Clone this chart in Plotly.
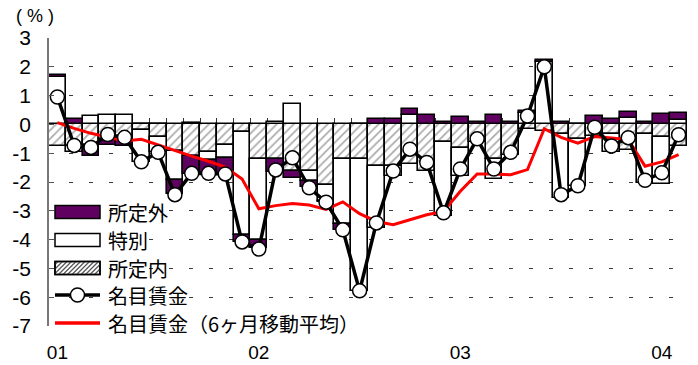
import plotly.graph_objects as go

# Monthly periods, Jan 2001 - Feb 2004
months = [f"{y}-{m:02d}" for y in (2001, 2002, 2003) for m in range(1, 13)] + ["2004-01", "2004-02"]
year_ticks = ["2001-01", "2002-01", "2003-01", "2004-01"]
year_labels = ["01", "02", "03", "04"]

# Contributions to nominal wage growth (percentage points)
scheduled = [-0.75, -0.75, -0.72, -0.5, -0.52, -0.2, -0.45, -0.93, -1.1, -0.97, -0.7, -0.28,
             -1.2, -1.2, -1.62, -1.63, -2.1, -1.2, -1.2, -1.45, -1.45, -1.37, -1.62, -0.6,
             -0.81, -0.6, -1.2, -1.05, -0.15, -0.23, -0.35, -0.5, -0.4, -0.35, -0.9, -0.35,
             -0.44, -0.75]
special = [1.63, -0.2, 0.3, 0.33, 0.32, -1.1, -0.52, -1.0, 0.05, -0.25, -0.45, -3.55,
           -2.8, 0.08, 0.72, -0.35, -0.55, -2.25, -4.6, -2.15, -0.35, 0.33, 0.0, -2.58,
           -0.99, 0.0, -0.68, 0.0, 0.4, 2.15, -2.2, -1.65, 0.0, -0.6, 0.23, -1.7,
           -1.63, 0.14]
overtime = [0.09, 0.2, -0.38, -0.2, -0.23, 0.0, 0.0, -0.5, -0.63, -0.48, -0.55, -0.25,
            -0.3, -0.45, -0.25, -0.2, -0.05, -0.2, 0.0, 0.2, 0.18, 0.2, 0.31, 0.1,
            0.25, 0.1, 0.33, 0.08, 0.05, 0.08, 0.1, 0.0, 0.28, 0.2, 0.2, 0.08,
            0.37, 0.25]
nominal = [0.95, -0.73, -0.8, -0.35, -0.45, -1.3, -0.97, -2.44, -1.7, -1.7, -1.72, -4.08,
           -4.33, -1.58, -1.16, -2.2, -2.7, -3.66, -5.78, -3.42, -1.62, -0.86, -1.32, -3.07,
           -1.55, -0.5, -1.55, -0.97, 0.29, 2.0, -2.44, -2.13, -0.1, -0.75, -0.46, -1.94,
           -1.68, -0.36]
nominal_ma6 = [0.06, -0.14, -0.31, -0.45, -0.58, -0.52, -0.72, -0.9, -1.1, -1.28, -1.48, -1.9,
               -2.93, -2.82, -2.75, -2.8, -2.95, -2.69, -3.1, -3.37, -3.48, -3.31, -3.14, -3.02,
               -2.32, -1.72, -1.72, -1.75, -1.57, -0.15, -0.45, -0.65, -0.42, -0.47, -0.53, -1.45,
               -1.3, -1.05]

legend_names = ["所定外", "特別", "所定内", "名目賃金", "名目賃金（6ヶ月移動平均）"]
y_ticks = list(range(-7, 4))

FONT = "Arial, 'Liberation Sans', 'Noto Sans CJK JP', sans-serif"
CJK = "'Noto Sans CJK JP', sans-serif"
PURPLE = "#600060"
HATCH = "#555555"

W, H = 698, 365
ML, MR, MT, MB = 49, 11, 38, 39
PW, PH = W - ML - MR, H - MT - MB


def px(x):
    """pixel column -> paper x"""
    return (x - ML) / PW


def py(y):
    """pixel row -> paper y"""
    return (H - MB - y) / PH


fig = go.Figure()

bar_line = dict(color="black", width=1.6)
fig.add_trace(go.Bar(
    x=months, y=scheduled, name=legend_names[2],
    marker=dict(color="white", line=bar_line,
                pattern=dict(shape="/", fgcolor=HATCH, bgcolor="white", size=6, solidity=0.28)),
))
fig.add_trace(go.Bar(
    x=months, y=special, name=legend_names[1],
    marker=dict(color="white", line=bar_line),
))
fig.add_trace(go.Bar(
    x=months, y=overtime, name=legend_names[0],
    marker=dict(color=PURPLE, line=bar_line),
))
fig.add_trace(go.Scatter(
    x=months, y=nominal_ma6, name=legend_names[4], mode="lines",
    line=dict(color="#ff0000", width=3),
))
fig.add_trace(go.Scatter(
    x=months, y=nominal, name=legend_names[3], mode="lines+markers",
    line=dict(color="black", width=3.5),
    marker=dict(symbol="circle", size=14, color="white", line=dict(color="black", width=1.5)),
))

# Boundary tick marks along the zero line
fig.update_layout(xaxis2=dict(
    overlaying="x", anchor="free", position=0.7, range=[-0.5, len(months) - 0.5],
    tickvals=[i + 0.5 for i in range(len(months) - 1)], ticks="inside", ticklen=6,
    tickcolor="#333", tickwidth=1, showticklabels=False, showgrid=False,
    showline=False, zeroline=False, layer="below traces", automargin=False,
))
fig.add_trace(go.Scatter(x=[0], y=[0], xaxis="x2", mode="markers",
                         marker=dict(opacity=0), showlegend=False, hoverinfo="skip"))

# Blank panel behind the legend hiding the grid
fig.add_shape(type="rect", xref="paper", yref="y", x0=0.0, x1=px(383), y0=-7.1, y1=-2.5,
              fillcolor="white", line=dict(width=0), layer="between")

# ---- legend drawn as swatches + labels ----
rows = [212, 240, 268, 295, 323]
sx0, sx1, sh = 55, 100, 6.5


def rect(y, fill):
    fig.add_shape(type="rect", xref="paper", yref="paper",
                  x0=px(sx0), x1=px(sx1), y0=py(y + sh), y1=py(y - sh),
                  fillcolor=fill, line=dict(color="black", width=1.5), layer="above")


rect(rows[0], PURPLE)
rect(rows[1], "white")
rect(rows[2], "white")
# diagonal hatching inside the 所定内 swatch
top, bot = rows[2] - sh, rows[2] + sh
c = sx0 + top + 3
while c < sx1 + bot:
    xa = max(sx0, c - bot)
    xb = min(sx1, c - top)
    if xb > xa:
        fig.add_shape(type="line", xref="paper", yref="paper",
                      x0=px(xa), y0=py(c - xa), x1=px(xb), y1=py(c - xb),
                      line=dict(color=HATCH, width=1.2), layer="above")
    c += 4.5
rect(rows[2], "rgba(0,0,0,0)")

fig.add_shape(type="line", xref="paper", yref="paper", x0=px(sx0), x1=px(sx1),
              y0=py(rows[3]), y1=py(rows[3]), line=dict(color="black", width=3.5), layer="above")
fig.add_shape(type="circle", xref="paper", yref="paper",
              x0=px(77.5 - 7), x1=px(77.5 + 7), y0=py(rows[3] + 7), y1=py(rows[3] - 7),
              fillcolor="white", line=dict(color="black", width=1.5), layer="above")
fig.add_shape(type="line", xref="paper", yref="paper", x0=px(sx0), x1=px(sx1),
              y0=py(rows[4]), y1=py(rows[4]), line=dict(color="#ff0000", width=3.5), layer="above")

for name, y in zip(legend_names, rows):
    fig.add_annotation(text=name, xref="paper", yref="paper", x=px(106), y=py(y),
                       xanchor="left", yanchor="middle", showarrow=False,
                       font=dict(family=CJK, size=20, color="black"))

fig.add_annotation(text="( % )", xref="paper", yref="paper", x=px(35), y=py(16),
                   xanchor="center", yanchor="middle", showarrow=False,
                   font=dict(family=FONT, size=18, color="black"))

fig.update_layout(
    width=W, height=H,
    margin=dict(l=ML, r=MR, t=MT, b=MB, autoexpand=False),
    paper_bgcolor="white", plot_bgcolor="white",
    barmode="relative", bargap=0,
    font=dict(family=FONT, size=20, color="black"),
    showlegend=False,
    xaxis=dict(type="category", range=[-0.5, len(months) - 0.5],
               tickvals=year_ticks, ticktext=year_labels, ticks="",
               showgrid=False, showline=False, zeroline=False, automargin=False,
               tickfont=dict(family=FONT, size=19), ticklabelstandoff=13),
    yaxis=dict(range=[-7, 3], tickvals=y_ticks, ticktext=[str(v) for v in y_ticks],
               ticks="inside", ticklen=5, tickcolor="#555", automargin=False,
               showgrid=True, gridcolor="#3a3a3a", gridwidth=1, griddash="4px,16px",
               zeroline=True, zerolinecolor="black", zerolinewidth=2,
               showline=True, linecolor="#777", linewidth=1.5,
               tickfont=dict(family=FONT, size=21), ticklabelstandoff=12),
)

fig.write_html("out.html")
